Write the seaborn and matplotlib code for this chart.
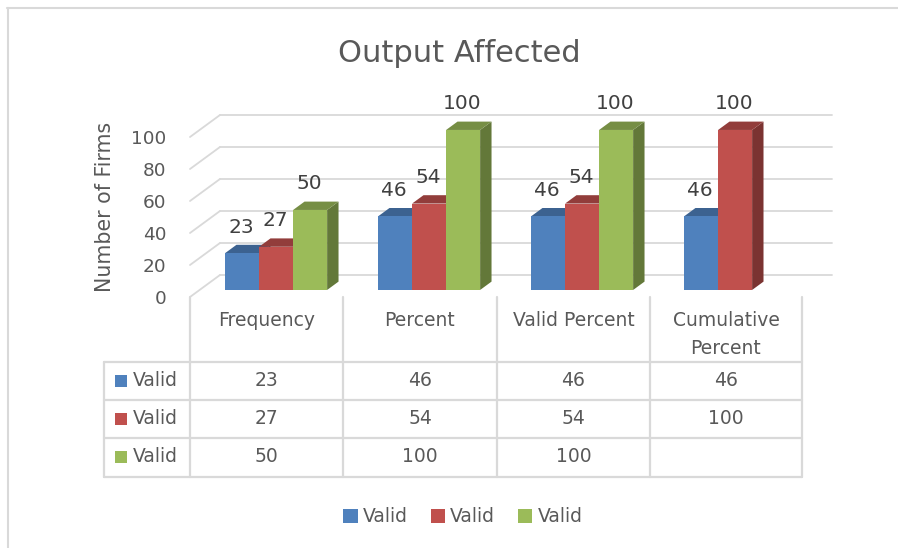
import numpy as np
import pandas as pd
import matplotlib
matplotlib.use("Agg")
import matplotlib.pyplot as plt
import seaborn as sns
from matplotlib.transforms import ScaledTranslation
from matplotlib.patches import Polygon, Rectangle, Patch
from matplotlib.lines import Line2D

# ---------------- data ----------------
categories = ["Frequency", "Percent", "Valid Percent", "Cumulative Percent"]
category_labels = ["Frequency", "Percent", "Valid Percent", "Cumulative\nPercent"]
series_names = ["Valid", "Valid", "Valid"]
series1 = [23, 46, 46, 46]
series2 = [27, 54, 54, 100]
series3 = [50, 100, 100, np.nan]
colors = ["#4F81BD", "#C0504D", "#9BBB59"]
yticks = [0, 20, 40, 60, 80, 100]
title = "Output Affected"
ylabel = "Number of Firms"

series_values = [series1, series2, series3]
series_keys = ["s1", "s2", "s3"]

rows = []
for key, vals in zip(series_keys, series_values):
    for c, v in zip(categories, vals):
        if not np.isnan(v):
            rows.append({"category": c, "series": key, "value": v})
df = pd.DataFrame(rows)

# ---------------- figure ----------------
W, H = 898, 548
sns.set_theme(style="white")
plt.rcParams["font.family"] = ["DejaVu Sans"]
TXT = "#595959"
GRID = "#d9d9d9"

fig = plt.figure(figsize=(W / 100, H / 100), dpi=100)
fig.patch.set_facecolor("white")


def fx(px):
    return px / W


def fy(py):
    return 1 - py / H


ax = fig.add_axes([fx(190), fy(297), (802 - 190) / W, (297 - 105) / H])
ax.patch.set_alpha(0)

sns.barplot(data=df, x="category", y="value", hue="series", order=categories,
            hue_order=series_keys, palette=dict(zip(series_keys, colors)),
            width=0.667, saturation=1, legend=False, errorbar=None, ax=ax)

ax.set_xlim(-0.5, len(categories) - 0.5)
ax.set_ylim(0, 120)
for s in ax.spines.values():
    s.set_visible(False)
ax.set_xticks([])
ax.set_xlabel("")
ax.set_ylabel("")
ax.set_yticks(yticks)
ax.set_yticklabels([str(t) for t in yticks])
ax.tick_params(axis="y", length=0, pad=17, labelsize=13.3, labelcolor=TXT)
ax.grid(False)

# pseudo-3D depth
DX, DY = 30.0, 22.0
D_FRONT, D_BACK = 0.32, 0.70


def off(d):
    return ScaledTranslation(DX * d / 100.0, DY * d / 100.0, fig.dpi_scale_trans)


inv = fig.transFigure.inverted()


def to_fig(x, y, d):
    p = ax.transData.transform((x, y)) + np.array([DX * d, DY * d])
    return inv.transform(p)


# back wall gridlines and left diagonals
for v in yticks:
    ax.plot([-0.5, len(categories) - 0.5], [v, v], transform=ax.transData + off(1.0),
            color=GRID, lw=1.3, zorder=1, clip_on=False)
    p0 = to_fig(-0.5, v, 0.0)
    p1 = to_fig(-0.5, v, 1.0)
    ax.add_line(Line2D([p0[0], p1[0]], [p0[1], p1[1]], transform=fig.transFigure,
                       color=GRID, lw=1.3, zorder=1, clip_on=False))


def shade(c, f):
    r, g, b = matplotlib.colors.to_rgb(c)
    return (r * f, g * f, b * f)


bars = [p for p in ax.patches if isinstance(p, Rectangle) and p.get_height() > 0]
bars.sort(key=lambda p: p.get_x())
for rank, p in enumerate(bars):
    x0, w, h = p.get_x(), p.get_width(), p.get_height()
    fc = p.get_facecolor()[:3]
    z = 3 + rank * 0.01
    p.set_transform(ax.transData + off(D_FRONT))
    p.set_zorder(z + 0.005)
    p.set_edgecolor("none")
    p.set_linewidth(0)
    p.set_clip_on(False)
    top = [to_fig(x0, h, D_FRONT), to_fig(x0 + w, h, D_FRONT),
           to_fig(x0 + w, h, D_BACK), to_fig(x0, h, D_BACK)]
    side = [to_fig(x0 + w, 0, D_FRONT), to_fig(x0 + w, h, D_FRONT),
            to_fig(x0 + w, h, D_BACK), to_fig(x0 + w, 0, D_BACK)]
    ax.add_patch(Polygon(side, closed=True, transform=fig.transFigure,
                         facecolor=shade(fc, 0.64), edgecolor="none", zorder=z, clip_on=False))
    ax.add_patch(Polygon(top, closed=True, transform=fig.transFigure,
                         facecolor=shade(fc, 0.76), edgecolor="none", zorder=z, clip_on=False))
    ax.annotate(f"{int(h)}", xy=(x0 + w / 2, h), xycoords="data",
                xytext=((DX * D_FRONT - 1) * 0.72, (DY * D_FRONT + 26) * 0.72),
                textcoords="offset points", ha="center", va="center",
                fontsize=14.5, color="#404040", zorder=10, annotation_clip=False)

# ---------------- titles ----------------
fig.text(fx(459), fy(53), title, ha="center", va="center", fontsize=22, color=TXT)
fig.text(fx(105), fy(207), ylabel, ha="center", va="center", rotation=90,
         fontsize=14.8, color=TXT)

# ---------------- data table ----------------
col_edges = [190, 343, 497, 650, 802]
row_edges = [362, 400, 438, 477]
table_left = 104
row_centers = [381, 419, 457]


def fline(xs, ys, lw=1.6):
    fig.add_artist(Line2D([fx(x) for x in xs], [fy(y) for y in ys],
                          color=GRID, lw=lw, transform=fig.transFigure))


for y in row_edges:
    fline([table_left, col_edges[-1]], [y, y])
fline([table_left, table_left], [row_edges[0], row_edges[-1]])
for x in col_edges:
    fline([x, x], [297, row_edges[-1]])

for i, lab in enumerate(category_labels):
    cx = (col_edges[i] + col_edges[i + 1]) / 2
    cy = 320 if "\n" not in lab else 334.5
    fig.text(fx(cx), fy(cy), lab, ha="center", va="center", fontsize=13.5,
             color=TXT, linespacing=1.55)

for r, (name, vals, col) in enumerate(zip(series_names, series_values, colors)):
    cy = row_centers[r]
    fig.patches.append(Rectangle((fx(115), fy(cy + 6)), 12 / W, 12 / H,
                                 transform=fig.transFigure, facecolor=col,
                                 edgecolor="none", figure=fig))
    fig.text(fx(133), fy(cy), name, ha="left", va="center", fontsize=13.5, color=TXT)
    for i, v in enumerate(vals):
        if np.isnan(v):
            continue
        cx = (col_edges[i] + col_edges[i + 1]) / 2
        fig.text(fx(cx), fy(cy), f"{int(v)}", ha="center", va="center",
                 fontsize=13.5, color=TXT)

# ---------------- legend ----------------
handles = [Patch(facecolor=c, edgecolor="none", label=n) for c, n in zip(colors, series_names)]
leg = fig.legend(handles=handles, loc="center", bbox_to_anchor=(fx(463), fy(517)),
                 ncol=3, frameon=False, handlelength=0.75, handleheight=0.75,
                 handletextpad=0.3, columnspacing=1.2, fontsize=13.5)
for t in leg.get_texts():
    t.set_color(TXT)

# ---------------- outer border ----------------
fline([7, W], [8, 8], lw=1.5)
fline([7.5, 7.5], [8, H], lw=1.5)

fig.savefig("out.png", dpi=100)
